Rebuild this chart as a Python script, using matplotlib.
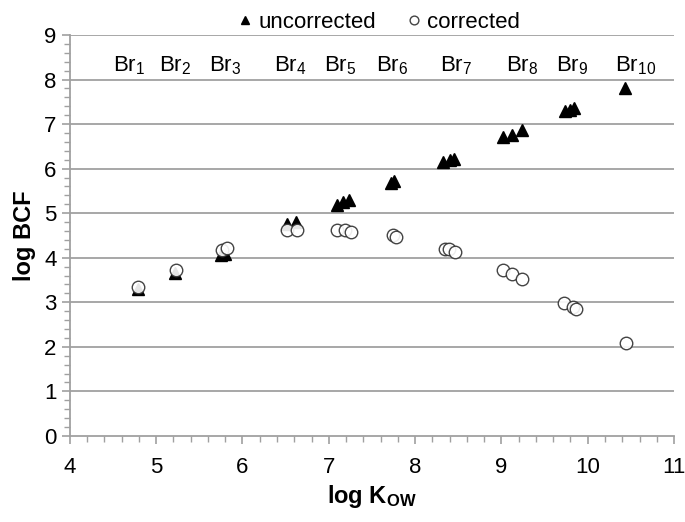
import numpy as np
import matplotlib
matplotlib.use('Agg')
import matplotlib.pyplot as plt
from matplotlib.ticker import MultipleLocator

plt.rcParams['font.family'] = ['Liberation Sans', 'DejaVu Sans']
plt.rcParams['mathtext.default'] = 'regular'

# uncorrected (triangles)
unc_x = [4.79, 5.22, 5.75, 5.80, 6.51, 6.62, 7.09, 7.16, 7.23, 7.72, 7.76,
         8.32, 8.40, 8.45, 9.02, 9.12, 9.24, 9.74, 9.80, 9.84, 10.43]
unc_y = [3.30, 3.66, 4.06, 4.08, 4.76, 4.80, 5.18, 5.25, 5.29, 5.68, 5.72,
         6.15, 6.20, 6.22, 6.70, 6.75, 6.86, 7.29, 7.32, 7.35, 7.80]

# corrected (open circles)
cor_x = [4.79, 5.23, 5.76, 5.82, 6.51, 6.63, 7.09, 7.19, 7.26, 7.74, 7.78,
         8.35, 8.39, 8.46, 9.02, 9.12, 9.24, 9.73, 9.83, 9.86, 10.44]
cor_y = [3.34, 3.72, 4.18, 4.22, 4.63, 4.63, 4.62, 4.62, 4.57, 4.51, 4.46,
         4.19, 4.19, 4.12, 3.72, 3.63, 3.52, 2.98, 2.89, 2.85, 2.08]

# congener labels
br_n = [1, 2, 3, 4, 5, 6, 7, 8, 9, 10]
br_x = [4.69, 5.22, 5.80, 6.55, 7.13, 7.73, 8.48, 9.24, 9.82, 10.56]
br_y = 8.32

fig = plt.figure(figsize=(6.85, 5.22), dpi=100)
ax = fig.add_axes([0.102, 0.165, 0.882, 0.768])

for y in range(1, 10):
    ax.axhline(y, color='#a0a0a0', lw=1.3, zorder=0)

ax.plot(unc_x, unc_y, '^', color='black', ms=8.5, mec='black', zorder=3,
        label='uncorrected')
ax.plot(cor_x, cor_y, 'o', mfc='white', mec='#303030', mew=1.0, ms=9,
        zorder=4, alpha=0.9, label='corrected')

for n, x in zip(br_n, br_x):
    ax.text(x, br_y, 'Br$_{%d}$' % n, ha='center', va='center', fontsize=16)

ax.set_xlim(4, 11)
ax.set_ylim(0, 9)
ax.xaxis.set_major_locator(MultipleLocator(1))
ax.xaxis.set_minor_locator(MultipleLocator(0.2))
ax.yaxis.set_major_locator(MultipleLocator(1))
ax.yaxis.set_minor_locator(MultipleLocator(0.2))
ax.tick_params(which='both', direction='out', color='#a0a0a0', labelsize=16)
ax.tick_params(which='major', length=6, width=1.2)
ax.tick_params(which='minor', length=4, width=1.0)
ax.tick_params(axis='x', pad=9)

for s in ['top', 'right']:
    ax.spines[s].set_visible(False)
for s in ['left', 'bottom']:
    ax.spines[s].set_color('#a0a0a0')
    ax.spines[s].set_linewidth(1.3)

ax.set_xlabel('log K$_{OW}$', fontsize=17, fontweight='bold')
ax.set_ylabel('log BCF', fontsize=17, fontweight='bold', labelpad=6)

fig.legend(loc='upper center', bbox_to_anchor=(0.55, 1.015), ncol=2,
           frameon=False, fontsize=16, markerscale=0.7, handletextpad=0.1,
           columnspacing=1.2, handlelength=1.0)

fig.savefig('out.png', dpi=100)
